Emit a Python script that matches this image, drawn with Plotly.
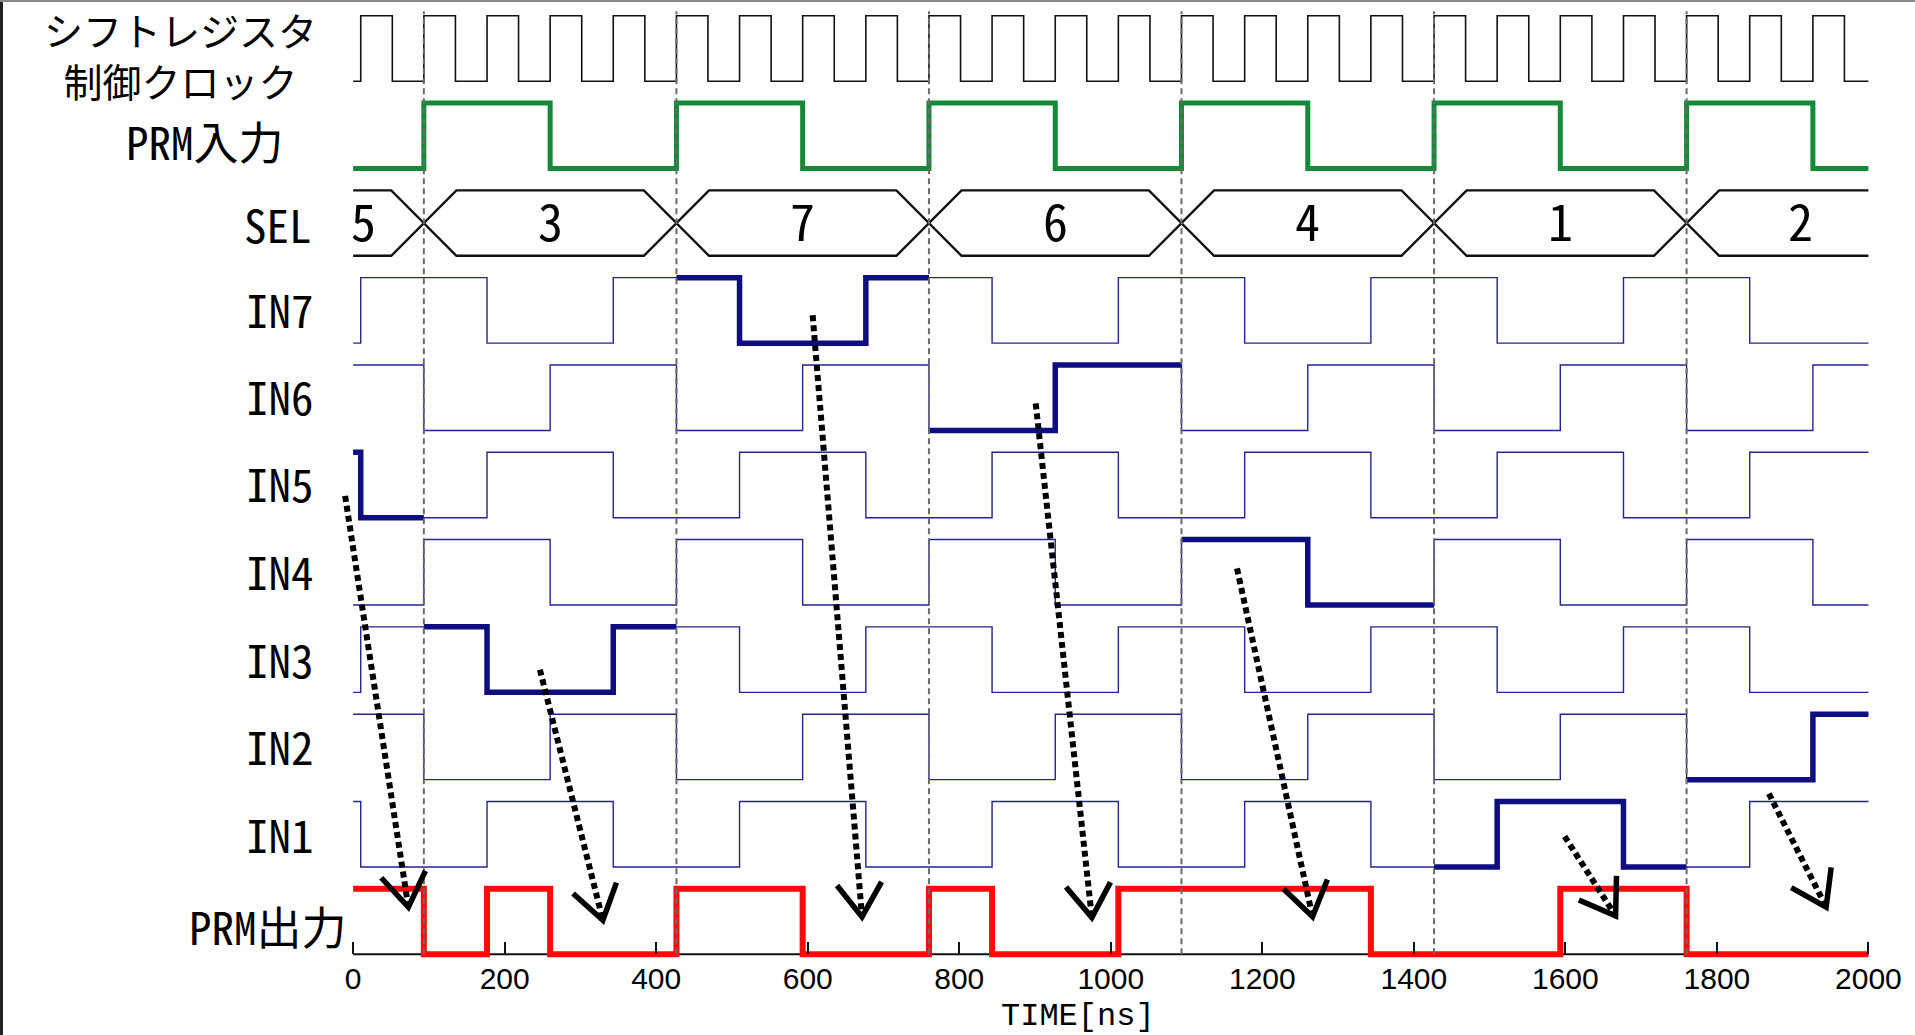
import math
import plotly.graph_objects as go

# ---------------- data ----------------
clock_label = "シフトレジスタ<br>制御クロック"
row_labels = ["PRM入力", "SEL", "IN7", "IN6", "IN5", "IN4", "IN3", "IN2", "IN1", "PRM出力"]

clock_init = 0
clock_edges = [10, 51.7, 93.3, 135, 176.7, 218.3, 260, 301.7, 343.3, 385,
               426.7, 468.3, 510, 551.7, 593.3, 635, 676.7, 718.3, 760, 801.7,
               843.3, 885, 926.7, 968.3, 1010, 1051.7, 1093.3, 1135, 1176.7, 1218.3,
               1260, 1301.7, 1343.3, 1385, 1426.7, 1468.3, 1510, 1551.7, 1593.3, 1635,
               1676.7, 1718.3, 1760, 1801.7, 1843.3, 1885, 1926.7, 1968.3]

prm_in_init = 0
prm_in_edges = [93.3, 260, 426.7, 593.3, 760, 926.7, 1093.3, 1260, 1426.7, 1593.3, 1760, 1926.7]

# input waveforms: initial level and transition times [ns]
in7_init, in7_edges = 0, [10, 176.7, 343.3, 510, 676.7, 843.3, 1010, 1176.7, 1343.3, 1510, 1676.7, 1843.3]
in6_init, in6_edges = 1, [93.3, 260, 426.7, 593.3, 760, 926.7, 1093.3, 1260, 1426.7, 1593.3, 1760, 1926.7]
in5_init, in5_edges = 1, [10, 176.7, 343.3, 510, 676.7, 843.3, 1010, 1176.7, 1343.3, 1510, 1676.7, 1843.3]
in4_init, in4_edges = 0, [93.3, 260, 426.7, 593.3, 760, 926.7, 1093.3, 1260, 1426.7, 1593.3, 1760, 1926.7]
in3_init, in3_edges = 0, [10, 176.7, 343.3, 510, 676.7, 843.3, 1010, 1176.7, 1343.3, 1510, 1676.7, 1843.3]
in2_init, in2_edges = 1, [93.3, 260, 426.7, 593.3, 760, 926.7, 1093.3, 1260, 1426.7, 1593.3, 1760, 1926.7]
in1_init, in1_edges = 1, [10, 176.7, 343.3, 510, 676.7, 843.3, 1010, 1176.7, 1343.3, 1510, 1676.7, 1843.3]

sel_values = ["5", "3", "7", "6", "4", "1", "2"]
sel_edges = [93.3, 426.7, 760, 1093.3, 1426.7, 1760]
sel_label_x = [13, 260, 593.3, 926.7, 1260, 1593.3, 1910]

prm_out_init = 1
prm_out_edges = [93.3, 176.7, 260, 426.7, 593.3, 760, 843.3, 1010, 1343.3, 1593.3, 1760]

arrow_start_x = [-10.6, 246.5, 606.5, 900.9, 1166.6, 1599, 1868.6]
arrow_start_y = [5.25, 3.26, 7.32, 6.31, 4.42, 1.35, 1.84]
arrow_tip_x = [72.9, 329.6, 671.6, 975, 1266.3, 1666.3, 1944.2]
arrow_tip_y = [0.54, 0.39, 0.43, 0.42, 0.43, 0.44, 0.54]

tick_vals = [0, 200, 400, 600, 800, 1000, 1200, 1400, 1600, 1800, 2000]
x_title = "TIME[ns]"
T_END = 2000

# ---------------- layout geometry ----------------
W, H = 1915, 1035
ML, MR, MT, MB = 338, 39, 7, 72
XR = [-20, 2010]
YR = [-0.1, 10.85]
AMP = 0.75
PW, PH = W - ML - MR, H - MT - MB
kx = PW / (XR[1] - XR[0])      # px per ns
ky = PH / (YR[1] - YR[0])      # px per row unit

ROW = {"clk": 10, "prm_in": 9, "sel": 8, 7: 7, 6: 6, 5: 5, 4: 4, 3: 3, 2: 2, 1: 1, "prm_out": 0}

JP = "Noto Sans Mono CJK JP, Noto Sans CJK JP, sans-serif"
NUM = "Liberation Sans Narrow, Arial Narrow, Liberation Sans, Arial, sans-serif"
MONO = "Liberation Mono, DejaVu Sans Mono, monospace"

in_sig = {7: (in7_init, in7_edges), 6: (in6_init, in6_edges), 5: (in5_init, in5_edges),
          4: (in4_init, in4_edges), 3: (in3_init, in3_edges), 2: (in2_init, in2_edges),
          1: (in1_init, in1_edges)}


def px_(t):
    return (t - XR[0]) / (XR[1] - XR[0])


def py_(v):
    return (v - YR[0]) / (YR[1] - YR[0])


def pix_y(p):
    # figure pixel row (from top) -> paper y
    return (H - MB - p) / PH


def level_at(init, edges, t):
    n = sum(1 for e in edges if e <= t)
    return init ^ (n % 2)


def step_xy(init, edges, row, t0=0, t1=T_END):
    lvl = level_at(init, edges, t0) if t0 > 0 else init
    xs, ys = [t0], [row + AMP * lvl]
    for e in edges:
        if t0 < e < t1:
            lvl = 1 - lvl
            xs.append(e)
            ys.append(row + AMP * lvl)
    xs.append(t1)
    ys.append(row + AMP * lvl)
    return xs, ys


fig = go.Figure()


def add_line(xs, ys, color, width, shape="linear", dash=None):
    fig.add_trace(go.Scatter(x=xs, y=ys, mode="lines", line_shape=shape,
                             line=dict(color=color, width=width, dash=dash),
                             hoverinfo="skip", showlegend=False))


# clock
x, y = step_xy(clock_init, clock_edges, ROW["clk"])
add_line(x, y, "#111111", 1.6, "hv")
# PRM input
x, y = step_xy(prm_in_init, prm_in_edges, ROW["prm_in"])
add_line(x, y, "#148a38", 5, "hv")

# SEL bus
h = 43
top, bot, mid = ROW["sel"] + AMP, ROW["sel"], ROW["sel"] + AMP / 2
tx, ty, bx, by = [0], [top], [0], [bot]
for e in sel_edges:
    tx += [e - h, e, e + h]
    ty += [top, mid, top]
    bx += [e - h, e, e + h]
    by += [bot, mid, bot]
tx.append(T_END); ty.append(top); bx.append(T_END); by.append(bot)
add_line(tx + [None] + bx, ty + [None] + by, "#111111", 2.4)

# thin inputs
for k in range(7, 0, -1):
    init, edges = in_sig[k]
    x, y = step_xy(init, edges, ROW[k])
    add_line(x, y, "#25258f", 1.4, "hv")

# thick selected segments
bounds = [0] + sel_edges + [T_END]
for i, v in enumerate(sel_values):
    k = int(v)
    init, edges = in_sig[k]
    x, y = step_xy(init, edges, ROW[k], bounds[i], bounds[i + 1])
    add_line(x, y, "#0e0e80", 5.5, "hv")

# baseline
add_line([0, T_END], [0, 0], "#111111", 2.2)
# PRM output
x, y = step_xy(prm_out_init, prm_out_edges, ROW["prm_out"])
add_line(x, y, "#ff0a0a", 6, "hv")

# dashed separators
dx, dy = [], []
for e in sel_edges:
    dx += [e, e, None]
    dy += [0, 10.8, None]
add_line(dx, dy, "#6a6a6a", 2, dash="6px,4px")

# arrows
ax_, ay_ = [], []
vx, vy = [], []
L, ang = 40, math.radians(34)
for sx, sy, ex, ey in zip(arrow_start_x, arrow_start_y, arrow_tip_x, arrow_tip_y):
    ax_ += [sx, ex, None]
    ay_ += [sy, ey, None]
    ddx, ddy = (sx - ex) * kx, (sy - ey) * ky
    n = math.hypot(ddx, ddy)
    ux, uy = ddx / n, ddy / n
    pts = []
    for s in (1, -1):
        c, si = math.cos(s * ang), math.sin(s * ang)
        rx, ry = ux * c - uy * si, ux * si + uy * c
        pts.append((ex + L * rx / kx, ey + L * ry / ky))
    vx += [pts[0][0], ex, pts[1][0], None]
    vy += [pts[0][1], ey, pts[1][1], None]
add_line(ax_, ay_, "#000000", 6, dash="6px,4px")
add_line(vx, vy, "#000000", 5.5)

# SEL values
for v, xv in zip(sel_values, sel_label_x):
    fig.add_annotation(xref="paper", yref="paper", x=px_(xv), y=py_(mid + 0.05), text=v,
                       showarrow=False, xanchor="center", yanchor="middle",
                       font=dict(family=JP, size=50, color="#000000"))

# clock label (two lines)
fig.add_annotation(xref="paper", yref="paper", x=px_(-228), y=pix_y(54), text=clock_label,
                   showarrow=False, xanchor="center", yanchor="middle", align="center",
                   font=dict(family=JP, size=39, color="#000000"))

# row labels: (x in ns, y in figure pixels from top)
label_pos = [(-195, 141), (-99, 223),
             (-96, 308), (-96, 395), (-96, 482), (-96, 570),
             (-96, 658), (-96, 745), (-96, 833), (-113, 925)]
for txt, (xv, yp) in zip(row_labels, label_pos):
    fig.add_annotation(xref="paper", yref="paper", x=px_(xv), y=pix_y(yp), text=txt,
                       showarrow=False, xanchor="center", yanchor="middle",
                       font=dict(family=JP, size=45, color="#000000"))

fig.add_annotation(xref="paper", yref="paper", x=px_(957), y=pix_y(1016), text=x_title,
                   showarrow=False, xanchor="center", yanchor="middle",
                   font=dict(family=MONO, size=32, color="#000000"))

# image frame
fig.add_shape(type="line", xref="paper", yref="paper",
              x0=(1.5 - ML) / PW, x1=(1.5 - ML) / PW,
              y0=-MB / PH, y1=1 + MT / PH,
              line=dict(color="#222222", width=3))
fig.add_shape(type="line", xref="paper", yref="paper",
              x0=-ML / PW, x1=1 + MR / PW,
              y0=1 + (MT - 1) / PH, y1=1 + (MT - 1) / PH,
              line=dict(color="#8a8a8a", width=2))

fig.update_layout(
    width=W, height=H,
    margin=dict(l=ML, r=MR, t=MT, b=MB),
    paper_bgcolor="white", plot_bgcolor="white",
    hovermode=False, showlegend=False,
    xaxis=dict(range=XR, anchor="free", position=py_(0),
               tickvals=tick_vals, ticks="inside", ticklen=12, tickwidth=2, tickcolor="#111111",
               ticklabelstandoff=4,
               showgrid=False, zeroline=False, showline=False,
               tickfont=dict(family=NUM, size=30, color="#000000")),
    yaxis=dict(range=YR, visible=False, showgrid=False, zeroline=False),
)

fig.write_html("out.html", config={"displayModeBar": False},
               post_script="document.body.style.margin='0px';document.body.style.overflow='hidden';")
